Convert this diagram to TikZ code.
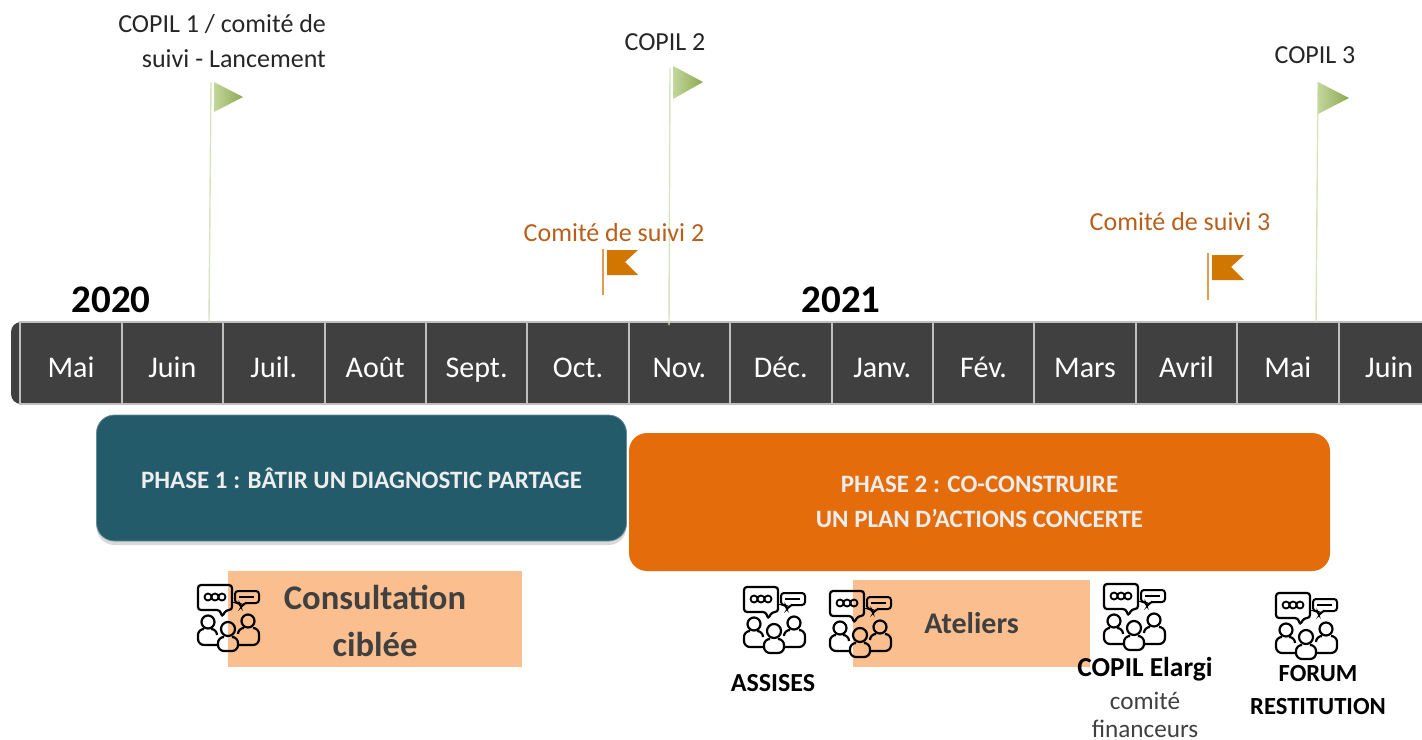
\documentclass[tikz,border=0pt]{standalone}
\usepackage{fontspec}
\setmainfont{Carlito}
\usetikzlibrary{shapes,shapes.geometric,arrows,calc,positioning,shadows}

\definecolor{barfill}{HTML}{404040}
\definecolor{barline}{HTML}{BFBFBF}
\definecolor{phaseblue}{HTML}{235B6B}
\definecolor{phaseorange}{HTML}{E46C0A}
\definecolor{peach}{HTML}{FBBF8F}
\definecolor{polegreen}{HTML}{D7E4BD}
\definecolor{flaggreen}{HTML}{9BBB59}
\definecolor{flagorange}{HTML}{D17600}
\definecolor{poleorange}{HTML}{E59B4F}
\definecolor{suivitext}{HTML}{B85F1C}

\tikzset{
  month/.style={rectangle,draw=barline,line width=1pt,fill=barfill,text=white,
    minimum width=50.7pt,minimum height=41pt,text height=14pt,text depth=0pt,
    font=\fontsize{15}{18}\selectfont},
  copil/.style={text=black!85,align=right,font=\fontsize{13}{17.5}\selectfont},
  suivi/.style={text=suivitext,font=\fontsize{13}{16}\selectfont},
  year/.style={text=black,font=\bfseries\fontsize{19.5}{22}\selectfont},
  phase/.style={rectangle,rounded corners=9pt,text=white!93!black,align=center,
    font=\bfseries\fontsize{12.5}{17.5}\selectfont},
  action/.style={rectangle,fill=peach,text=black!75,align=center,
    font=\bfseries\fontsize{17.3}{23.5}\selectfont},
  caption/.style={text=black,align=center,font=\bfseries\fontsize{13}{16.5}\selectfont},
  note/.style={text=black!75,align=center,inner sep=0pt,font=\fontsize{12.6}{14}\selectfont},
  pole/.style={draw=polegreen,line width=0.7pt},
  orangepole/.style={draw=poleorange,line width=1pt},
  peopleicon/.pic={
    \draw[line width=1.1pt,rounded corners=1.5pt] (-30,-33) -- (4,-33) -- (4,-8) -- (-2,-8) -- (-6,-1) -- (-8,-8) -- (-30,-8) -- cycle;
    \draw[line width=0.9pt] (-20,-21) circle (3.5) (-13,-21) circle (3.5) (-6,-21) circle (3.5);
    \draw[line width=1pt,rounded corners=1.5pt] (7,-27) -- (31,-27) -- (31,-15) -- (16,-15) -- (13,-10) -- (12,-15) -- (7,-15) -- cycle;
    \draw[line width=0.6pt] (11,-21) -- (26,-21);
    \draw[line width=1.1pt] (-20,4) circle (6.5) (0,11) circle (7) (20,3) circle (6.5);
    \draw[line width=1.1pt,rounded corners=3pt] (-24,11) -- (-30,11) -- (-30,27) -- (-11,27);
    \draw[line width=1.1pt,rounded corners=3pt] (-16,11) -- (-11,11) -- (-11,17);
    \draw[line width=1.1pt,rounded corners=3pt] (-6,19) -- (-10,19) -- (-10,33) -- (10,33) -- (10,19) -- (6,19);
    \draw[line width=1.1pt,rounded corners=3pt] (25,10) -- (31,10) -- (31,27) -- (11,27);
    \draw[line width=1.1pt,rounded corners=3pt] (15,10) -- (10,10) -- (10,16);
  }
}

\begin{document}
\begin{tikzpicture}[%
    x=0.5pt,
    y=-0.5pt,
    node distance=50.7pt,
    on grid
  ]
  \useasboundingbox (0,0) rectangle (1422,739);

  % timeline
  \fill[barfill,rounded corners=5pt] (11,322) rectangle (40,404);
  \node[month] (mai) at (71,363) {Mai};
  \node[month] (juin) [right of=mai] {Juin};
  \node[month] (juil) [right of=juin] {Juil.};
  \node[month] (aout) [right of=juil] {Août};
  \node[month] (sept) [right of=aout] {Sept.};
  \node[month] (oct) [right of=sept] {Oct.};
  \node[month] (nov) [right of=oct] {Nov.};
  \node[month] (dec) [right of=nov] {Déc.};
  \node[month] (janv) [right of=dec] {Janv.};
  \node[month] (fev) [right of=janv] {Fév.};
  \node[month] (mars) [right of=fev] {Mars};
  \node[month] (avril) [right of=mars] {Avril};
  \node[month] (mai2) [right of=avril] {Mai};
  \node[month] (juin2) [right of=mai2] {Juin};

  \node[year] (y2020) at (111,300) {2020};
  \node[year] (y2021) at (841,300) {2021};

  % COPIL flags
  \coordinate (top1) at (211,82);
  \coordinate (foot1) at (209,322);
  \coordinate (top2) at (670,68);
  \coordinate (foot2) at (669,325);
  \coordinate (top3) at (1318,82);
  \coordinate (foot3) at (1316,322);
  \path[pole] (top1) edge (foot1);
  \path[pole] (top2) edge (foot2);
  \path[pole] (top3) edge (foot3);
  \shade[left color=flaggreen!60!white,right color=flaggreen!90!black] (214,82) -- (243,97) -- (214,112) -- cycle;
  \shade[left color=flaggreen!60!white,right color=flaggreen!90!black] (673,66) -- (703,82) -- (673,99) -- cycle;
  \shade[left color=flaggreen!60!white,right color=flaggreen!90!black] (1318,82) -- (1349,98) -- (1318,114) -- cycle;

  \node[copil,anchor=north east] (copil1) at (333,7) {COPIL 1 / comité de\\suivi - Lancement};
  \node[copil] (copil2) at (665,42) {COPIL 2};
  \node[copil] (copil3) at (1315,55) {COPIL 3};

  % comite de suivi flags
  \coordinate (top4) at (603,249);
  \coordinate (foot4) at (603,295);
  \coordinate (top5) at (1208,253);
  \coordinate (foot5) at (1208,300);
  \path[orangepole] (top4) edge (foot4);
  \path[orangepole] (top5) edge (foot5);
  \fill[flagorange] (607,250) -- (638,250) -- (625,262) -- (638,275) -- (607,275) -- cycle;
  \fill[flagorange] (1212,255) -- (1244,255) -- (1231,267) -- (1244,280) -- (1212,280) -- cycle;

  \node[suivi] (suivi2) at (614,233) {Comité de suivi 2};
  \node[suivi] (suivi3) at (1180,222) {Comité de suivi 3};

  % phases
  \node[phase,fill=phaseblue,draw=phaseblue!70!white,drop shadow={opacity=0.3,shadow xshift=0pt,shadow yshift=-2pt},
    minimum width=265pt,minimum height=63pt] (phase1) at (361.5,478) {PHASE 1 : BÂTIR UN DIAGNOSTIC PARTAGE};
  \node[phase,fill=phaseorange,minimum width=350.5pt,minimum height=69pt] (phase2) at (979.5,502) {PHASE 2 : CO-CONSTRUIRE\\UN PLAN D'ACTIONS CONCERTE};

  % actions
  \node[action,minimum width=147pt,minimum height=48pt] (consult) at (375,619) {\rule{0pt}{14pt}Consultation\\ciblée};
  \node[action,font=\bfseries\fontsize{15}{18}\selectfont,minimum width=118.5pt,minimum height=43.5pt] (ateliers) at (971.5,623.5) {Ateliers};

  \pic at (228,618) {peopleicon};
  \pic at (774,620) {peopleicon};
  \pic at (860,624) {peopleicon};
  \pic at (1134,617) {peopleicon};
  \pic at (1306,626) {peopleicon};

  \node[caption] (assises) at (773,683) {ASSISES};
  \node[caption,font=\bfseries\fontsize{13.7}{16.5}\selectfont] (elargi) at (1145,669) {COPIL Elargi};
  \node[note] (financeurs) at (1145,715) {comité\\financeurs};
  \node[caption,font=\bfseries\fontsize{12.3}{16.5}\selectfont] (forum) at (1318,690) {FORUM\\RESTITUTION};
\end{tikzpicture}
\end{document}
